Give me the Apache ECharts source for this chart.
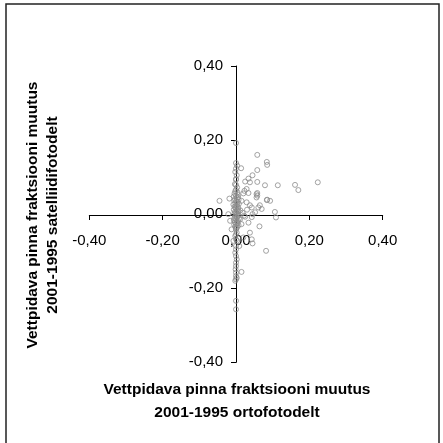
<!DOCTYPE html>
<html>
<head>
<meta charset="utf-8">
<script src="https://cdn.jsdelivr.net/npm/echarts@6/dist/echarts.min.js"></script>
<style>html,body{margin:0;padding:0;background:#fff}#c{width:443px;height:443px}</style>
</head>
<body>
<div id="c"></div>
<script>
var xTickLabels = ['-0,40', '-0,20', '0,00', '0,20', '0,40'];
var yTickLabels = ['-0,40', '-0,20', '0,00', '0,20', '0,40'];
var xTitleLines = ['Vettpidava pinna fraktsiooni muutus', '2001-1995 ortofotodelt'];
var yTitleLines = ['Vettpidava pinna fraktsiooni muutus', '2001-1995 satelliidifotodelt'];

// x = change from orthophotos, y = change from satellite images
var offAxisX = [0.058, 0.084, 0.085, 0.223, 0.161, 0.170, 0.114, 0.079, 0.058, 0.058, 0.045, 0.034, 0.025, 0.038, 0.014,
  0.023, 0.034, 0.058, 0.058, 0.085, 0.093, 0.065, 0.070, 0.106, 0.109, 0.029, 0.038, 0.043, 0.052, 0.045,
  0.043, -0.045, -0.018, -0.021, -0.016, -0.012, 0.064, 0.020, 0.038, 0.043, 0.045, 0.082, 0.015, 0.011,
  0.025, 0.029, 0.056, 0.056, 0.020, 0.061, 0.084, 0.015, 0.015, 0.034, 0.009, -0.007, 0.012, 0.018, 0.022, 0.030];
var offAxisY = [0.160, 0.141, 0.133, 0.086, 0.079, 0.065, 0.078, 0.078, 0.087, 0.119, 0.105, 0.096, 0.088, 0.086, 0.124,
  0.063, 0.057, 0.057, 0.050, 0.039, 0.036, 0.024, 0.014, 0.006, -0.009, 0.032, 0.024, 0.018, 0.005, 0.000,
  -0.008, 0.036, 0.042, 0.000, -0.018, -0.041, -0.033, -0.063, -0.050, -0.068, -0.079, -0.099, -0.156, -0.014,
  -0.007, 0.068, 0.054, 0.045, 0.056, 0.018, 0.038, 0.036, -0.027, -0.023, -0.086, -0.072, 0.010, 0.004, -0.004, 0.012];

var columnX = [0.000, 0.000, 0.003, 0.000, -0.002, 0.002, 0.000, 0.000, -0.003, 0.000, 0.003, 0.000, -0.002, 0.004,
  -0.004, 0.005, 0.000, -0.006, 0.006, 0.002, -0.003, 0.007, -0.005, 0.001, 0.004, -0.002, 0.008, -0.007, 0.003, 0.000,
  -0.004, 0.006, -0.001, 0.005, -0.006, 0.002, 0.007, -0.003, 0.000, 0.004, -0.005, 0.001, 0.006, -0.002, 0.003, -0.004,
  0.008, 0.000, -0.006, 0.005, 0.002, -0.003, 0.004, 0.000, -0.005, 0.007, 0.001, -0.002, 0.003, 0.000,
  0.000, 0.002, 0.000, -0.002, 0.000, 0.003, 0.000, 0.000, -0.002, 0.000, 0.002, 0.000, 0.000, -0.001, 0.000, 0.000,
  0.002, 0.000, -0.002, 0.000, 0.000];
var columnY = [0.192, 0.138, 0.131, 0.123, 0.114, 0.105, 0.095, 0.093, 0.081, 0.079, 0.072, 0.066, 0.062, 0.059,
  0.056, 0.053, 0.050, 0.048, 0.046, 0.044, 0.041, 0.039, 0.037, 0.035, 0.032, 0.030, 0.028, 0.026, 0.024, 0.022,
  0.020, 0.018, 0.016, 0.014, 0.012, 0.010, 0.008, 0.006, 0.004, 0.002, 0.000, -0.002, -0.004, -0.006, -0.008, -0.010,
  -0.012, -0.014, -0.016, -0.018, -0.020, -0.022, -0.024, -0.026, -0.028, -0.030, -0.032, -0.034, -0.036, -0.038,
  -0.041, -0.050, -0.055, -0.059, -0.068, -0.072, -0.086, -0.095, -0.104, -0.113, -0.122, -0.131, -0.140, -0.149, -0.158, -0.167,
  -0.172, -0.176, -0.180, -0.234, -0.257];

var points = [];
offAxisX.forEach(function (v, i) { points.push([v, offAxisY[i]]); });
columnX.forEach(function (v, i) { points.push([v, columnY[i]]); });

var FONT = '"Liberation Sans", Arial, sans-serif';
var chart = echarts.init(document.getElementById('c'), null, { renderer: 'canvas' });
chart.setOption({
  animation: false,
  backgroundColor: '#fff',
  grid: { left: 89.3, right: 60.3, top: 66, bottom: 80.7, containLabel: false },
  xAxis: {
    type: 'value', min: -0.4, max: 0.4, interval: 0.2,
    position: 'bottom', offset: -147.3,
    splitLine: { show: false },
    axisLine: { onZero: false, lineStyle: { color: '#000', width: 1 } },
    axisTick: { show: true, length: 5, inside: false, lineStyle: { color: '#000', width: 1 } },
    axisLabel: { margin: 18, fontSize: 15, color: '#000', fontFamily: FONT,
      formatter: function (v, i) { return xTickLabels[i]; } }
  },
  yAxis: {
    type: 'value', min: -0.4, max: 0.4, interval: 0.2,
    position: 'left', offset: -146.7,
    splitLine: { show: false },
    axisLine: { onZero: false, lineStyle: { color: '#000', width: 1 } },
    axisTick: { show: true, length: 5, inside: false, lineStyle: { color: '#000', width: 1 } },
    axisLabel: { margin: 13, fontSize: 15, color: '#000', fontFamily: FONT,
      formatter: function (v, i) { return yTickLabels[i]; } }
  },
  series: [{
    type: 'scatter',
    data: points,
    symbol: 'circle',
    symbolSize: 5,
    itemStyle: { color: 'rgba(0,0,0,0)', borderColor: '#8c8c8c', borderWidth: 1 },
    z: 1
  }],
  graphic: [
    { type: 'rect', shape: { x: 6, y: 4, width: 433, height: 445 },
      style: { fill: 'none', stroke: '#222', lineWidth: 1.5 }, silent: true },
    { type: 'text', x: 237, y: 390, style: { text: xTitleLines[0], font: 'bold 15.5px ' + FONT, fill: '#000', align: 'center', verticalAlign: 'middle' } },
    { type: 'text', x: 237, y: 413, style: { text: xTitleLines[1], font: 'bold 15.5px ' + FONT, fill: '#000', align: 'center', verticalAlign: 'middle' } },
    { type: 'text', x: 33, y: 215, rotation: Math.PI / 2, style: { text: yTitleLines[0], font: 'bold 15.5px ' + FONT, fill: '#000', align: 'center', verticalAlign: 'middle' } },
    { type: 'text', x: 53, y: 215, rotation: Math.PI / 2, style: { text: yTitleLines[1], font: 'bold 15.5px ' + FONT, fill: '#000', align: 'center', verticalAlign: 'middle' } }
  ]
});
</script>
</body>
</html>
